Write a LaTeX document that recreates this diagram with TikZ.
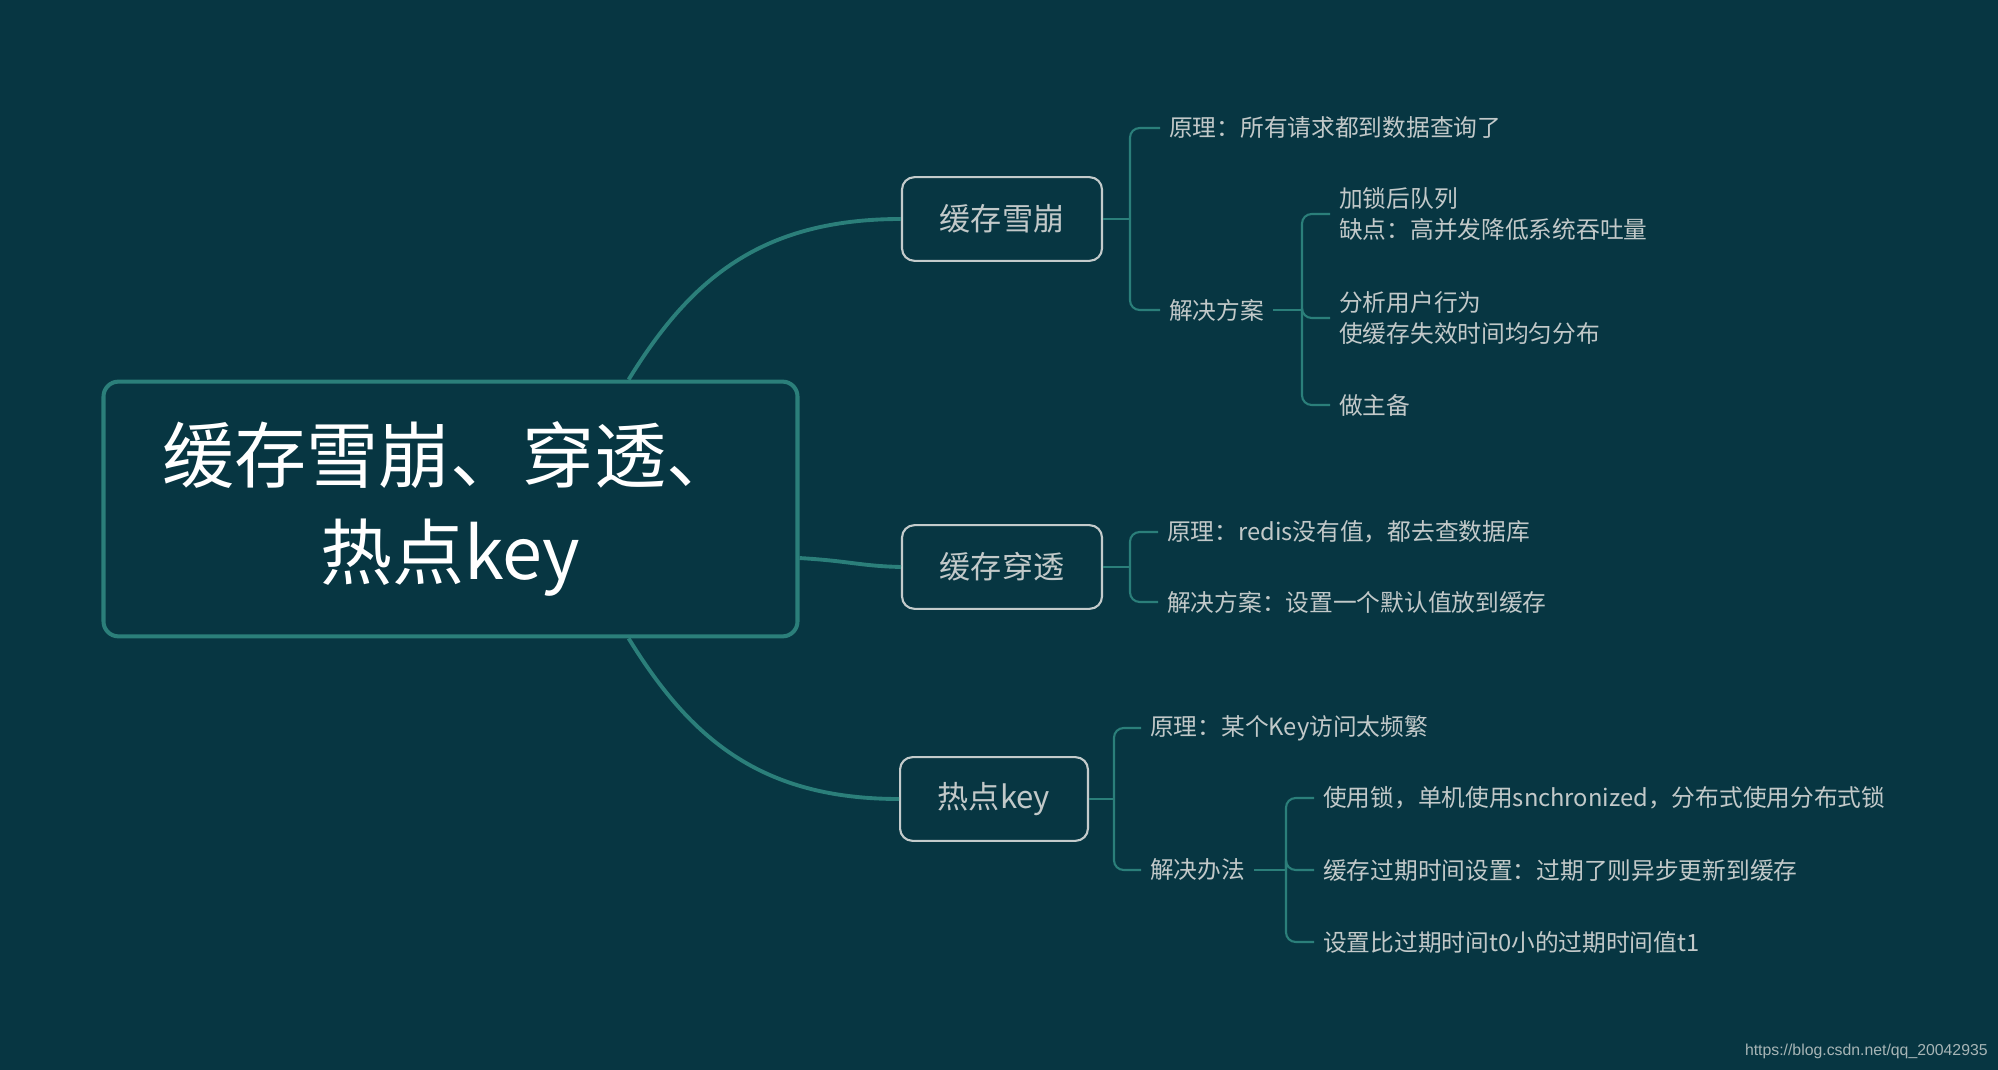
\documentclass[tikz,border=0pt]{standalone}
\usepackage{fontspec}
\setmainfont{Noto Sans CJK SC}
\newfontfamily\urlfont{Liberation Sans}
\usetikzlibrary{positioning}
\definecolor{bgc}{HTML}{073642}
\definecolor{linec}{HTML}{2B7F7A}
\definecolor{boxc}{HTML}{C3CBCB}
\definecolor{txtc}{HTML}{C2C9C9}
\begin{document}
\begin{tikzpicture}[x=0.02cm,y=-0.02cm]
                    \tikzstyle{every node}+=[inner sep=0pt]
                    \tikzstyle{rootbox}=[draw=linec, line width=2.3pt, rounded corners=8.5pt, minimum width=395pt, minimum height=145pt, align=center, text=white, font=\fontsize{41}{55.6}\selectfont]
                    \tikzstyle{topicbox}=[draw=boxc, line width=1.2pt, rounded corners=7pt, inner xsep=21.5pt, minimum height=47.6pt, text=txtc, font=\fontsize{17.7}{21}\selectfont]
                    \tikzstyle{leaf}=[anchor=west, inner xsep=5pt, inner ysep=2pt, align=left, text=txtc, font=\fontsize{13.5}{18}\selectfont]
                    \tikzstyle{mainline}=[linec, line width=2.2pt]
                    \tikzstyle{stem}=[linec, line width=1.2pt, rounded corners=5.5pt]
                    \fill [bgc] (0,0) rectangle (1998,1070);
                    \node [rootbox] (root) at (450.5,509) {缓存雪崩、穿透、\\热点key};
                    \node [topicbox] (snow) at (1002,219) {缓存雪崩};
                    \node [topicbox] (pierce) at (1002,567) {缓存穿透};
                    \node [topicbox] (hot) at (994,799) {热点key};
                    \draw [mainline] (root.36) .. controls (690,280) and (760,219) .. (snow.west);
                    \draw [mainline] (root.-8.5) .. controls (850,561) and (860,566) .. (pierce.west);
                    \draw [mainline] (root.-36) .. controls (690,738) and (760,799) .. (hot.west);
                    \node [leaf] (snowwhy) at (1160,128) {原理：所有请求都到数据查询了};
                    \node [leaf] (snowfix) at (1160,310) {解决方案};
                    \node [leaf] (snowlock) at (1330,214) {加锁后队列\\缺点：高并发降低系统吞吐量};
                    \node [leaf] (snowspread) at (1330,318) {分析用户行为\\使缓存失效时间均匀分布};
                    \node [leaf] (snowbackup) at (1330,405) {做主备};
                    \coordinate (snowstem) at (1130,219);
                    \coordinate (snowfixstem) at (1302,310);
                    \draw [stem] (snow.east) -- (snowstem);
                    \draw [stem] (snowstem) |- (snowwhy.west);
                    \draw [stem] (snowstem) |- (snowfix.west);
                    \draw [stem] (snowfix.east) -- (snowfixstem);
                    \draw [stem] (snowfixstem) |- (snowlock.west);
                    \draw [stem] (snowfixstem) |- (snowspread.west);
                    \draw [stem] (snowfixstem) |- (snowbackup.west);
                    \node [leaf] (piercewhy) at (1158,532) {原理：redis没有值，都去查数据库};
                    \node [leaf] (piercefix) at (1158,602) {解决方案：设置一个默认值放到缓存};
                    \coordinate (piercestem) at (1130,567);
                    \draw [stem] (pierce.east) -- (piercestem);
                    \draw [stem] (piercestem) |- (piercewhy.west);
                    \draw [stem] (piercestem) |- (piercefix.west);
                    \node [leaf] (hotwhy) at (1141,728) {原理：某个Key访问太频繁};
                    \node [leaf] (hotfix) at (1141,870) {解决办法};
                    \node [leaf] (hotlock) at (1314,798) {使用锁，单机使用snchronized，分布式使用分布式锁};
                    \node [leaf] (hotasync) at (1314,870) {缓存过期时间设置：过期了则异步更新到缓存};
                    \node [leaf] (hotearly) at (1314,942) {设置比过期时间t0小的过期时间值t1};
                    \coordinate (hotstem) at (1114,799);
                    \coordinate (hotfixstem) at (1286,870);
                    \draw [stem] (hot.east) -- (hotstem);
                    \draw [stem] (hotstem) |- (hotwhy.west);
                    \draw [stem] (hotstem) |- (hotfix.west);
                    \draw [stem] (hotfix.east) -- (hotfixstem);
                    \draw [stem] (hotfixstem) |- (hotlock.west);
                    \draw [stem] (hotfixstem) |- (hotasync.west);
                    \draw [stem] (hotfixstem) |- (hotearly.west);
                    \node [anchor=east, text=boxc!85!bgc, font=\urlfont\fontsize{9}{10}\selectfont] (mark) at (1988,1051) {https://blog.csdn.net/qq\_20042935};
                \end{tikzpicture}
\end{document}
